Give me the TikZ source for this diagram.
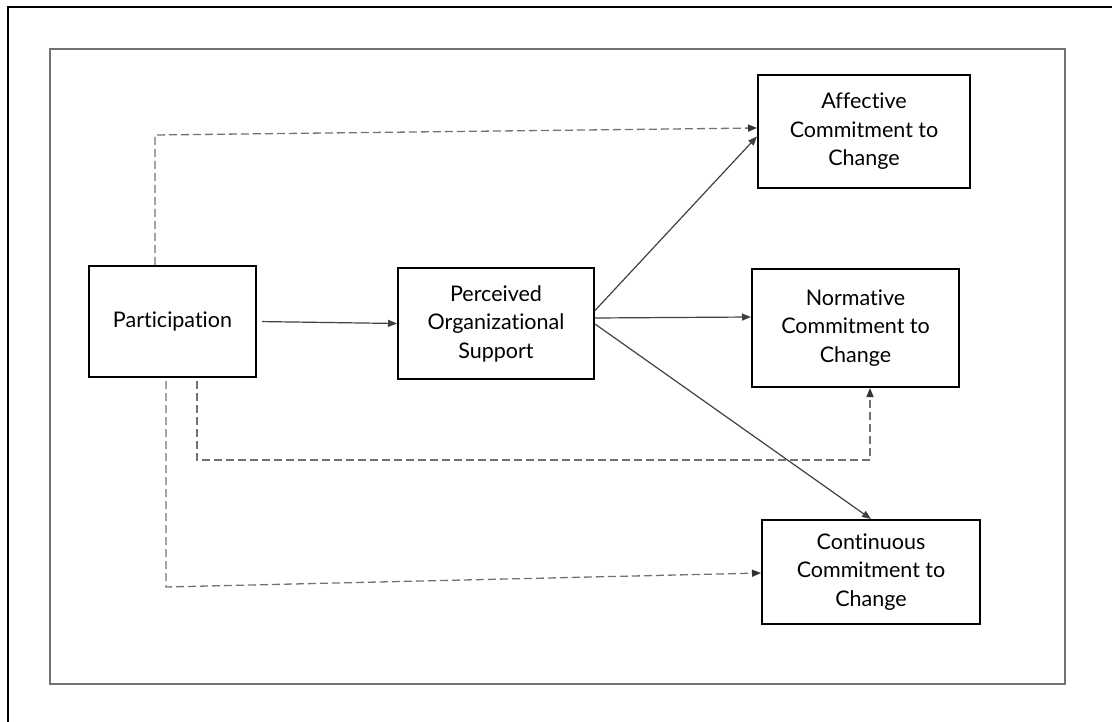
\documentclass[tikz,border=0pt]{standalone}
\usepackage{fontspec}
\setmainfont{Lato}[Ligatures={NoCommon}]
\usetikzlibrary{arrows.meta,calc}
\begin{document}
\begin{tikzpicture}[x=1pt,y=-1pt,
  box/.style={draw=black,line width=2pt,align=center,inner sep=0pt,
    font=\fontsize{21.5}{28.5}\selectfont},
  solidcon/.style={draw=black!75,line width=1.2pt,-{Triangle[length=9pt,width=7pt]}},
  dashcon/.style={draw=black!55,line width=1.3pt,dash pattern=on 8pt off 4pt,
    -{Triangle[length=9pt,width=7pt,color=black!80]}}]
\useasboundingbox (0,0) rectangle (1112,722);
% frames
\draw[line width=1.5pt,black] (8,722) -- (8,7) -- (1112,7);
\draw[line width=1.2pt,black!55] (50,49) rectangle (1065,684);
% nodes
\node[box,minimum width=167pt,minimum height=111pt] (part) at (172.5,321.5) {Participation};
\node[box,minimum width=196pt,minimum height=111pt] (pos) at (496,323.5) {Perceived\\Organizational\\Support};
\node[box,minimum width=212pt,minimum height=113pt] (aff) at (864,131.5) {Affective\\Commitment to\\Change};
\node[box,minimum width=207pt,minimum height=118pt] (norm) at (855.5,328) {Normative\\Commitment to\\Change};
\node[box,minimum width=218pt,minimum height=104pt] (cont) at (871,572) {Continuous\\Commitment to\\Change};
% solid connectors
\draw[solidcon,shorten <=5pt] (part.east) -- (pos.west);
\draw[solidcon] ([yshift=13pt]pos.east) -- ([yshift=-5pt]aff.west);
\draw[solidcon] ([yshift=5.5pt]pos.east) -- ([yshift=11pt]norm.west);
\draw[solidcon] ([yshift=-0.5pt]pos.east) -- (cont.north);
% dashed connectors
\draw[dashcon] ([xshift=-17.5pt]part.north) -- ++(0,-130) -- ([yshift=3.5pt]aff.west);
\draw[dashcon] ([xshift=24.5pt,yshift=-3pt]part.south) -- ++(0,79) -| ([xshift=14.5pt]norm.south);
\draw[dashcon] ([xshift=-6.5pt,yshift=-3pt]part.south) -- ++(0,206) -- ([yshift=-1pt]cont.west);
\end{tikzpicture}
\end{document}
